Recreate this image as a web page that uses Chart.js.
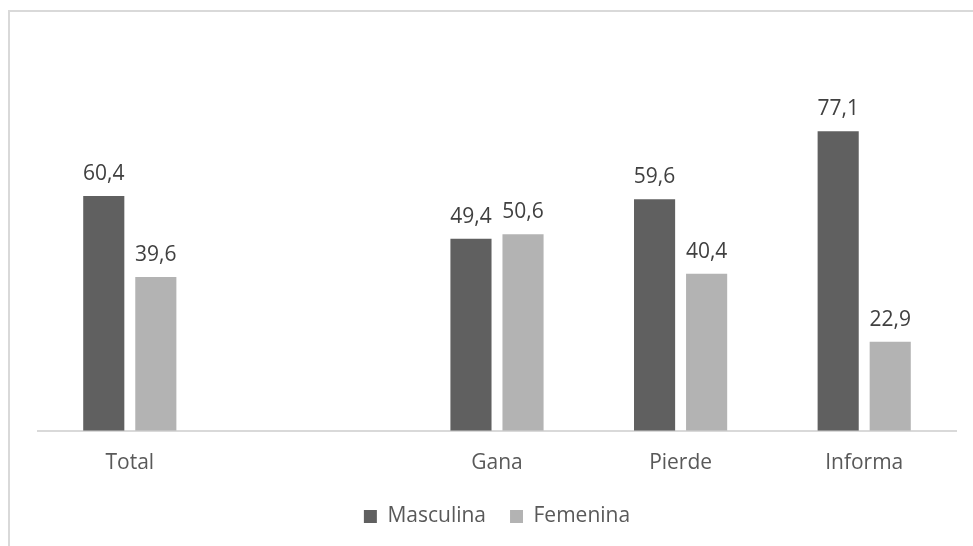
<!DOCTYPE html>
<html>
<head>
<meta charset="utf-8">
<script src="https://cdn.jsdelivr.net/npm/chart.js@4/dist/chart.umd.min.js"></script>
<style>
    html, body { margin: 0; padding: 0; background: #ffffff; overflow: hidden; }
    #wrap { position: relative; width: 973px; height: 546px; }
    #frame {
        position: absolute; left: 8px; top: 10px;
        width: 1100px; height: 700px;
        border: 2px solid #d9d9d9; box-sizing: border-box;
    }
    canvas { position: absolute; left: 0; top: 0; }
</style>
</head>
<body>
<div id="wrap">
    <div id="frame"></div>
    <canvas id="chart" width="973" height="546"></canvas>
</div>
<script>
    const categories = ["Total", "", "Gana", "Pierde", "Informa"];
    const masculina = [60.4, null, 49.4, 59.6, 77.1];
    const femenina = [39.6, null, 50.6, 40.4, 22.9];
    const seriesNames = ["Masculina", "Femenina"];

    const fontFamily = "'Open Sans', 'Noto Sans', sans-serif";

    // Draw the value labels above every bar (comma as decimal separator)
    const valueLabels = {
        id: "valueLabels",
        afterDatasetsDraw(chart) {
            const ctx = chart.ctx;
            ctx.save();
            ctx.font = "21px " + fontFamily;
            ctx.fillStyle = "#404040";
            ctx.textAlign = "center";
            ctx.textBaseline = "alphabetic";
            chart.data.datasets.forEach((ds, i) => {
                chart.getDatasetMeta(i).data.forEach((bar, j) => {
                    const v = ds.data[j];
                    if (v === null || v === undefined) return;
                    ctx.fillText(v.toFixed(1).replace(".", ","), bar.x, bar.y - 16);
                });
            });
            ctx.restore();
        }
    };

    new Chart(document.getElementById("chart"), {
        type: "bar",
        data: {
            labels: categories,
            datasets: [
                {
                    label: seriesNames[0],
                    data: masculina,
                    backgroundColor: "#606060",
                    categoryPercentage: 0.567,
                    barPercentage: 0.79
                },
                {
                    label: seriesNames[1],
                    data: femenina,
                    backgroundColor: "#b3b3b3",
                    categoryPercentage: 0.567,
                    barPercentage: 0.79
                }
            ]
        },
        options: {
            responsive: false,
            animation: false,
            layout: {
                padding: { left: 38, right: 17, top: 81, bottom: 9 }
            },
            scales: {
                x: {
                    grid: { display: false },
                    border: { color: "#d9d9d9", width: 2 },
                    ticks: {
                        color: "#595959",
                        padding: 12,
                        font: { size: 21, family: fontFamily }
                    },
                    afterFit(axis) {
                        axis.height -= 6;
                    }
                },
                y: {
                    display: false,
                    min: 0,
                    max: 90
                }
            },
            plugins: {
                legend: {
                    position: "bottom",
                    labels: {
                        color: "#595959",
                        boxWidth: 13,
                        boxHeight: 13,
                        padding: 24,
                        font: { size: 21, family: fontFamily }
                    }
                },
                tooltip: { enabled: false }
            }
        },
        plugins: [valueLabels]
    });
</script>
</body>
</html>
